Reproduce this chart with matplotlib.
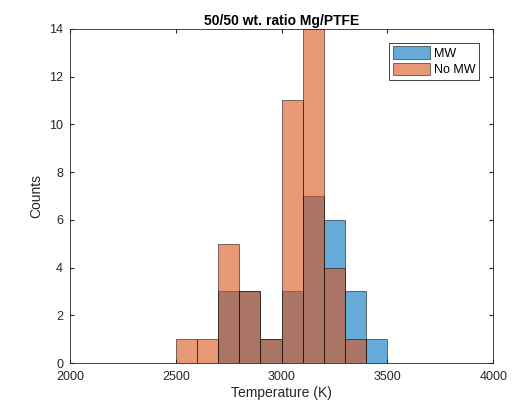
import numpy as np
import matplotlib.pyplot as plt

plt.rcParams['font.family'] = ['Liberation Sans', 'DejaVu Sans']

bin_left = [2500, 2600, 2700, 2800, 2900, 3000, 3100, 3200, 3300, 3400]
mw_counts = [0, 0, 3, 3, 1, 3, 7, 6, 3, 1]
nomw_counts = [1, 1, 5, 3, 1, 11, 14, 4, 1, 0]

blue = (0, 0.447, 0.741)
orange = (0.85, 0.325, 0.098)

fig = plt.figure(figsize=(5.23, 4.07), dpi=100)
ax = fig.add_axes([0.134, 0.108, 0.809, 0.821])

ax.bar(bin_left, mw_counts, width=100, align='edge', color=blue, alpha=0.6,
       edgecolor='black', linewidth=0.6, label='MW')
ax.bar(bin_left, nomw_counts, width=100, align='edge', color=orange, alpha=0.6,
       edgecolor='black', linewidth=0.6, label='No MW')

ax.set_xlim(2000, 4000)
ax.set_ylim(0, 14)
ax.set_xticks([2000, 2500, 3000, 3500, 4000])
ax.set_yticks(np.arange(0, 15, 2))
ax.tick_params(direction='in', length=3, labelsize=9, colors='#262626',
               top=True, right=True)
ax.tick_params(axis='x', pad=6)
ax.tick_params(axis='y', pad=5)
for s in ax.spines.values():
    s.set_color('#262626')
    s.set_linewidth(0.6)

ax.set_xlabel('Temperature (K)', fontsize=10, color='#262626', labelpad=2)
ax.set_ylabel('Counts', fontsize=10, color='#262626')
ax.set_title('50/50 wt. ratio Mg/PTFE', fontsize=10, fontweight='bold', pad=3)

leg = ax.legend(loc='upper right', fontsize=9, fancybox=False, framealpha=1,
                edgecolor='#262626', handlelength=3.0, handleheight=1.2,
                borderaxespad=1.1, handletextpad=0.3, labelspacing=0.2,
                borderpad=0.3)
leg.get_frame().set_linewidth(0.6)

fig.savefig('out.png', dpi=100)
